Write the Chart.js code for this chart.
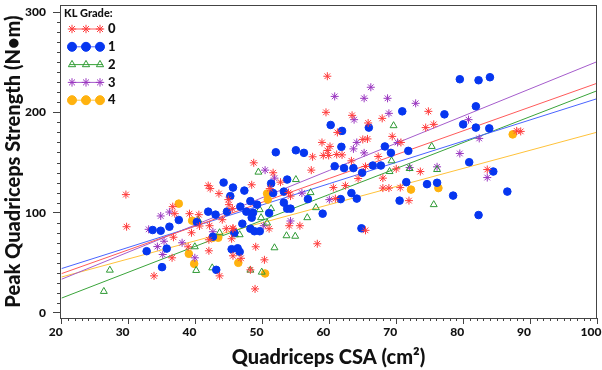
<!DOCTYPE html>
<html>
<head>
<meta charset="utf-8">
<script src="https://cdn.jsdelivr.net/npm/chart.js@4.4.1/dist/chart.umd.min.js"></script>
<style>
    html, body { margin: 0; padding: 0; background: #fff; }
    #chart { display: block; }
</style>
</head>
<body>
<canvas id="chart" width="602" height="370"></canvas>
<script>
    // values: [CSA (cm2), peak strength (N.m)]
    var gradeLabels = ['0', '1', '2', '3', '4'];
    var xTickLabels = [20, 30, 40, 50, 60, 70, 80, 90, 100];
    var yTickLabels = [0, 100, 200, 300];

    var grade0 = [
        [29.6, 118], [29.7, 86], [33.8, 37], [36.6, 106], [36.9, 99], [36.5, 55], [38.9, 66],
        [39.1, 99], [39.4, 80], [36.7, 75.5], [40.6, 86.7], [40.5, 98], [41.9, 127], [42.2, 124],
        [43.5, 119], [45, 108], [44, 93], [44.6, 84], [42.1, 87], [45.6, 84.5], [42, 73], [42, 62],
        [43.6, 37], [45.4, 74], [59.7, 236], [59.5, 200], [63.4, 197], [61.2, 180], [58.9, 170],
        [60.1, 166], [59.7, 162], [59.1, 157], [59.9, 157], [61.1, 158], [61.9, 157.6], [57.5, 155.7],
        [63.3, 151.7], [48.7, 149.7], [51.6, 139.8], [57.3, 142.4], [52.7, 130.4], [48.4, 127.8],
        [51.1, 124], [60.6, 125], [62.4, 127], [53.9, 120], [44.9, 113], [45.5, 104], [54.2, 116.5],
        [60.9, 114], [45.6, 84], [51, 84], [54, 87], [55.6, 87], [58.2, 69], [49, 66], [45.6, 57],
        [46.8, 54.5], [50.3, 53], [48.2, 43], [48.9, 24], [74.8, 201], [67.9, 194], [65.8, 189.4],
        [74.4, 184.8], [75.6, 188], [69.4, 176], [65, 173], [65.7, 173.5], [70.7, 170], [67.3, 156],
        [65.4, 146], [70, 143.7], [73.6, 141], [68, 134.4], [64.3, 134], [68, 124.5], [68.9, 124.5],
        [70.6, 125], [71.9, 112], [65.4, 82.4], [88, 181.5], [88.6, 181], [83.6, 143]
    ];
    var grade1 = [
        [32.7, 61.6], [33.6, 82.7], [34.8, 82], [35, 45.7], [35.7, 64.2], [36.1, 86], [37.5, 92.7],
        [40.2, 90.7], [41.9, 101], [44.2, 130], [45.6, 125], [45.2, 116.5], [43, 98], [44.7, 101],
        [42.6, 76], [45.4, 63.6], [46.3, 64.5], [43.1, 43], [60.2, 187.4], [61.9, 181.5], [61.8, 165.6],
        [52, 160.2], [55, 162.2], [56.2, 159.6], [60.8, 146.3], [62.2, 144.4], [63.6, 144.4],
        [51.3, 129.1], [53.7, 133], [47.3, 122], [53.2, 121], [51.6, 119.5], [48.2, 111.5], [49.2, 108],
        [46.7, 106], [47.6, 101], [48.6, 100], [53.2, 110], [53.7, 104], [54.2, 104], [56.8, 113.5],
        [59, 99], [61.7, 113.5], [63.3, 119.5], [48.4, 95], [51, 99.6], [47, 89], [48.2, 84],
        [48.8, 81.5], [49.6, 81.5], [45.8, 79.8], [46.6, 61], [79.5, 233], [70.9, 201], [77.2, 198],
        [65.9, 184.8], [80, 188], [68.3, 166], [71.8, 161.6], [69.2, 159.6], [66.5, 147], [67.7, 147],
        [64.9, 139.8], [80.9, 150.3], [71.5, 130.4], [74.6, 128.4], [76.1, 129.8], [70.5, 112],
        [78.5, 117], [64.8, 84.4], [64.1, 114], [82.3, 232], [84, 235], [81.9, 206], [81.9, 184.8],
        [83.9, 184], [84.5, 141], [86.6, 121], [82.3, 97.6]
    ];
    var grade2 = [
        [27.2, 42.7], [26.3, 21.5], [39.9, 66], [40.1, 42.4], [40.4, 92.7], [43.6, 80], [42.5, 45],
        [45.9, 78], [49.4, 140.4], [55, 133], [57.2, 120], [49.6, 103], [51.3, 104], [56.7, 95],
        [58, 105], [49.8, 95], [50.7, 89.7], [46.6, 78], [53.6, 77], [54.9, 76.5], [51.8, 65],
        [48.2, 42.7], [49.9, 40.7], [69.6, 186.7], [75.3, 166], [69.3, 151.7], [72, 144], [69, 141],
        [76.1, 143], [75.6, 108]
    ];
    var grade3 = [
        [34.8, 96.7], [36.1, 100.6], [33, 83.4], [34.3, 66.2], [35.1, 58.3], [39.9, 55], [38, 70],
        [35.3, 71.5], [42.6, 81], [60.8, 215.9], [63.7, 192.7], [63.6, 163.6], [50.4, 142.4],
        [51.8, 134.4], [55.9, 119.5], [60, 113], [50.2, 87], [54.2, 91.7], [66.2, 225], [65.2, 214],
        [68.7, 214], [72.9, 209], [68.9, 199], [80.8, 192.7], [64.1, 170], [70.2, 170], [65.2, 159.6],
        [79.5, 159], [72, 145], [76.1, 145.7], [82.4, 174], [83.6, 135]
    ];
    var grade4 = [
        [37.5, 109], [39, 59], [39.8, 49], [39.5, 92], [42.6, 75], [43.4, 75], [46.4, 50],
        [50.7, 119], [50.8, 113], [50.4, 39.4], [76.3, 124.5], [72.2, 123], [87.4, 178]
    ];

    // fitted lines, read at both ends
    var fitCSA = [20, 100];
    var fitGrade0 = [39.3, 229];
    var fitGrade1 = [44.3, 213.6];
    var fitGrade2 = [14.9, 221.5];
    var fitGrade3 = [33.7, 250.5];
    var fitGrade4 = [35.9, 180.2];

    var FONT = 'Lato, "Open Sans", sans-serif';

    var styles = [
        { pointStyle: 'star', fill: 'rgba(0,0,0,0)', border: '#ff3b3b', line: '#ff5a5a', radius: 4 },
        { pointStyle: 'circle', fill: '#0636f0', border: '#0636f0', line: '#4a64ff', radius: 3.8 },
        { pointStyle: 'triangle', fill: 'rgba(0,0,0,0)', border: '#2f9a35', line: '#3aa43a', radius: 4 },
        { pointStyle: 'star', fill: 'rgba(0,0,0,0)', border: '#9a36c0', line: '#a55ccc', radius: 4 },
        { pointStyle: 'circle', fill: '#ffb20f', border: '#ffb20f', line: '#ffc23a', radius: 3.8 }
    ];

    var toPoints = function (pairs) {
            return pairs.map(function (p) {
                return { x: p[0], y: p[1] };
            });
        },

        toLine = function (ys) {
            return fitCSA.map(function (x, i) {
                return { x: x, y: ys[i] };
            });
        },

        scatterSet = function (pairs, i) {
            var s = styles[i];
            return {
                type: 'scatter',
                label: gradeLabels[i],
                data: toPoints(pairs),
                pointStyle: s.pointStyle,
                pointRadius: s.radius,
                pointBackgroundColor: s.fill,
                pointBorderColor: s.border,
                pointBorderWidth: 1,
                order: 0
            };
        },

        lineSet = function (ys, i) {
            return {
                type: 'line',
                label: 'fit ' + gradeLabels[i],
                data: toLine(ys),
                borderColor: styles[i].line,
                borderWidth: 1,
                pointRadius: 0,
                fill: false,
                order: 1
            };
        };

    var marker = function (ctx, s, x, y, r) {
        ctx.fillStyle = s.fill;
        ctx.strokeStyle = s.border;
        ctx.lineWidth = 1;
        Chart.helpers.drawPoint(ctx, { pointStyle: s.pointStyle, radius: r, borderWidth: 1, rotation: 0 }, x, y);
    };

    // legend with a short line and three markers per grade
    var legendPlugin = {
        id: 'klLegend',
        afterDraw: function (chart) {
            var ctx = chart.ctx,
                left = chart.chartArea.left,
                top = chart.chartArea.top;

            ctx.save();
            ctx.textBaseline = 'middle';
            ctx.textAlign = 'left';
            ctx.fillStyle = '#111';
            ctx.font = '900 11px ' + FONT;
            ctx.fillText('KL Grade:', left + 4, top + 8);

            styles.forEach(function (s, i) {
                var y = top + 24 + i * 17.8;
                ctx.strokeStyle = s.line;
                ctx.lineWidth = 1;
                ctx.beginPath();
                ctx.moveTo(left + 10, y);
                ctx.lineTo(left + 43, y);
                ctx.stroke();
                [12, 26, 40].forEach(function (dx) {
                    marker(ctx, s, left + dx, y, s.pointStyle === 'circle' ? 4.5 : 4.2);
                });
                ctx.fillStyle = '#111';
                ctx.font = '900 13px ' + FONT;
                ctx.fillText(gradeLabels[i], left + 48, y);
            });
            ctx.restore();
        }
    };

    // frame round the plot and the short minor ticks
    var framePlugin = {
        id: 'frame',
        afterDraw: function (chart) {
            var ctx = chart.ctx,
                a = chart.chartArea,
                xs = chart.scales.x,
                ys = chart.scales.y,
                v, p;

            ctx.save();
            ctx.strokeStyle = '#444';
            ctx.lineWidth = 1;
            ctx.strokeRect(Math.round(a.left) + 0.5, Math.round(a.top) + 0.5,
                Math.round(a.right - a.left) - 1, Math.round(a.bottom - a.top));

            ctx.beginPath();
            for (v = 20; v <= 100; v += 1) {
                if (v % 10 === 0) { continue; }
                p = Math.round(xs.getPixelForValue(v)) + 0.5;
                ctx.moveTo(p, a.bottom);
                ctx.lineTo(p, a.bottom + 3);
            }
            for (v = 0; v <= 300; v += 10) {
                if (v % 100 === 0) { continue; }
                p = Math.round(ys.getPixelForValue(v)) + 0.5;
                ctx.moveTo(a.left - 3, p);
                ctx.lineTo(a.left, p);
            }
            ctx.stroke();
            ctx.restore();
        }
    };

    var datasets = [grade0, grade1, grade2, grade3, grade4].map(scatterSet)
        .concat([fitGrade0, fitGrade1, fitGrade2, fitGrade3, fitGrade4].map(lineSet));

    new Chart(document.getElementById('chart').getContext('2d'), {
        type: 'scatter',
        data: { datasets: datasets },
        plugins: [framePlugin, legendPlugin],
        options: {
            responsive: false,
            animation: false,
            devicePixelRatio: 1,
            layout: { padding: { top: 3, right: 5, left: 0, bottom: 0 } },
            plugins: {
                legend: { display: false },
                tooltip: { enabled: false }
            },
            scales: {
                x: {
                    type: 'linear',
                    min: 19.75,
                    max: 100,
                    afterBuildTicks: function (scale) {
                        scale.ticks = xTickLabels.map(function (v) { return { value: v }; });
                    },
                    afterFit: function (scale) {
                        scale.height = 52;
                        scale.paddingLeft = 0;
                        scale.paddingRight = 0;
                    },
                    border: { display: false },
                    grid: { drawOnChartArea: false, tickLength: 6, color: '#444' },
                    ticks: {
                        autoSkip: false,
                        maxRotation: 0,
                        padding: 1,
                        labelOffset: -6,
                        color: '#111',
                        font: { family: FONT, size: 12, weight: '900' }
                    },
                    title: {
                        display: true,
                        text: 'Quadriceps CSA (cm²)',
                        color: '#111',
                        padding: { top: 4, bottom: 0 },
                        font: { family: FONT, size: 20, weight: '900' }
                    }
                },
                y: {
                    type: 'linear',
                    min: -5,
                    max: 307,
                    afterBuildTicks: function (scale) {
                        scale.ticks = yTickLabels.map(function (v) { return { value: v }; });
                    },
                    afterFit: function (scale) {
                        scale.width = 60;
                        scale.paddingTop = 0;
                        scale.paddingBottom = 0;
                    },
                    border: { display: false },
                    grid: { drawOnChartArea: false, tickLength: 7, color: '#444' },
                    ticks: {
                        padding: 7,
                        color: '#111',
                        font: { family: FONT, size: 12, weight: '900' }
                    },
                    title: {
                        display: true,
                        text: 'Peak Quadriceps Strength (N•m)',
                        color: '#111',
                        padding: { top: 2, bottom: 0 },
                        font: { family: FONT, size: 20, weight: '900' }
                    }
                }
            }
        }
    });
</script>
</body>
</html>
